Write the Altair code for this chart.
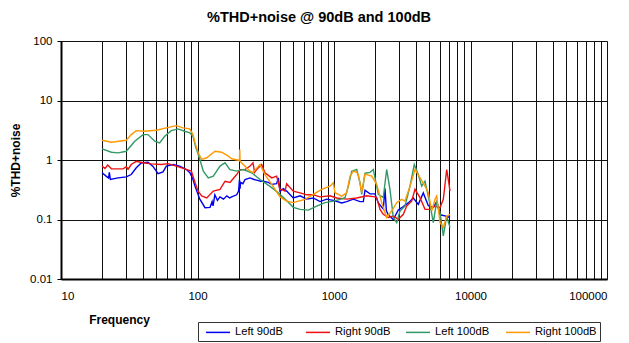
import altair as alt
import pandas as pd

series_names = ["Left 90dB", "Right 90dB", "Left 100dB", "Right 100dB"]
series_colors = ["#0000ee", "#ee1111", "#339966", "#ff9900"]

left90_f = [20, 21.5, 22.3, 22.6, 23, 26.2, 30.1, 32.7, 35.6, 38.7, 43.4, 47.2, 51.4, 55.9, 59.1, 66.1,
            74.1, 82.8, 88, 92.7, 96, 104, 113.5, 123.5, 128, 130, 134, 140, 146, 155, 164, 172, 178,
            193.6, 200, 203, 205, 207, 215, 223, 242, 260, 271, 290, 303, 330, 350, 380, 391, 402, 425,
            450, 503, 564, 631, 705, 790, 884, 988, 1139, 1239, 1385, 1551, 1640, 1687, 1835, 1995,
            2111, 2296, 2364, 2420, 2499, 2719, 2958, 3219, 3503, 3811, 4146, 4510, 4909, 5340, 5655,
            5979, 6503, 7077]
left90_v = [0.61, 0.53, 0.50, 0.62, 0.47, 0.50, 0.52, 0.57, 0.74, 0.89, 0.92, 0.78, 0.59, 0.63, 0.79, 0.84,
            0.79, 0.69, 0.61, 0.47, 0.36, 0.22, 0.158, 0.16, 0.20, 0.17, 0.26, 0.21, 0.24, 0.22, 0.25, 0.23, 0.24,
            0.26, 0.30, 0.47, 0.33, 0.42, 0.40, 0.47, 0.50, 0.47, 0.46, 0.44, 0.44, 0.42, 0.39, 0.40, 0.50, 0.30, 0.33,
            0.30, 0.23, 0.25, 0.22, 0.23, 0.20, 0.22, 0.21, 0.19, 0.20, 0.22, 0.20, 0.20, 0.31, 0.27, 0.27,
            0.19, 0.15, 0.33, 0.14, 0.12, 0.10, 0.145, 0.165, 0.19, 0.23, 0.18, 0.28, 0.17, 0.16, 0.20,
            0.12, 0.115, 0.108]

right90_f = [20, 21, 22, 23.4, 28.5, 30.1, 31, 32.7, 35.6, 39.9, 45.9, 54.3, 60.8, 69.9, 80.5, 90.1, 95.9,
             101, 107.3, 116.8, 130.6, 146.2, 159.1, 173, 193.6, 204.8, 222.8, 242.5, 255, 262, 271.4, 295,
             312, 350, 380, 402, 414, 438, 450, 503, 564, 631, 705, 790, 935, 1047, 1239, 1467, 1737, 1995,
             2055, 2173, 2296, 2499, 2719, 2958, 3219, 3409, 3707, 3922, 4266, 4643, 5050, 5496, 5979, 6321,
             6693, 6900, 7077]
right90_v = [0.79, 0.72, 0.82, 0.71, 0.71, 0.77, 0.70, 0.84, 0.95, 0.90, 0.86, 0.84, 0.87, 0.79, 0.71, 0.65, 0.42,
             0.30, 0.25, 0.23, 0.30, 0.32, 0.44, 0.42, 0.57, 0.69, 0.69, 0.79, 0.90, 0.62, 0.69, 0.84,
             0.61, 0.50, 0.535, 0.32, 0.32, 0.30, 0.40, 0.30, 0.28, 0.26, 0.26, 0.24, 0.25, 0.23, 0.22, 0.23, 0.25, 0.24,
             0.233, 0.148, 0.122, 0.108, 0.114, 0.101, 0.122, 0.168, 0.204, 0.321, 0.233, 0.148, 0.148, 0.168, 0.158, 0.218,
             0.69, 0.45, 0.30]

left100_f = [20, 23.4, 26.2, 30.1, 34.7, 39.9, 43.4, 48.6, 52.8, 57.5, 64.3, 71.9, 80.5, 88, 92.7, 97, 103,
             110.3, 120, 130.6, 146.2, 159.1, 173, 193.6, 216.6, 249.5, 287, 340, 391, 438, 503, 564, 648,
             747, 859, 988, 1107, 1204, 1274, 1348, 1467, 1551, 1596, 1687, 1835, 1941, 2111, 2296, 2432,
             2570, 2719, 2880, 3045, 3311, 3605, 3873, 4146, 4390, 4643, 5050, 5340, 5655, 5979, 6321,
             6693, 7077]
left100_v = [1.54, 1.35, 1.32, 1.40, 2.07, 2.67, 2.67, 2.07, 1.94, 2.50, 3.12, 3.33, 3.04, 2.85, 2.50, 1.65, 1.1,
             0.65, 0.50, 0.535, 0.79, 0.90, 0.69, 0.65, 0.69, 0.61, 0.47, 0.36, 0.28, 0.22, 0.16, 0.148, 0.144,
             0.168, 0.192, 0.204, 0.218, 0.233, 0.364, 0.649, 0.693, 0.415, 0.264, 0.60, 0.62, 0.693, 0.264, 0.233, 0.693,
             0.321, 0.108, 0.0887, 0.139, 0.168, 0.364, 0.84, 0.572, 0.364, 0.441, 0.18, 0.0887, 0.204, 0.131, 0.0529,
             0.114, 0.0732]

right100_f = [20, 23.4, 30.1, 32.7, 35.6, 40.4, 49.9, 59.1, 69.9, 78.3, 87.7, 92.7, 95.9, 101.4, 107.3, 116.8,
              134.3, 150.4, 168.1, 178, 199, 203, 204, 205, 216.6, 242.5, 255, 287, 312, 350, 402, 450, 503,
              548, 613, 705, 813, 935, 988, 1017, 1139, 1239, 1310, 1385, 1467, 1507, 1596, 1687, 1888, 2055,
              2236, 2432, 2647, 2880, 3133, 3311, 3605, 3922, 4266, 4643, 4909, 5197, 5496, 5655, 5979, 6321,
              6693, 7077]
right100_v = [2.15, 1.99, 2.15, 2.67, 3.12, 3.04, 3.16, 3.46, 3.78, 3.46, 3.33, 2.67, 1.94, 1.32, 1.02, 1.09,
              1.40, 1.35, 1.16, 1.05, 0.99, 1.02, 1.50, 0.95, 0.84, 0.65, 0.62, 0.84, 0.57, 0.39, 0.24, 0.204, 0.192,
              0.204, 0.218, 0.264, 0.321, 0.364, 0.415, 0.282, 0.247, 0.282, 0.535, 0.649, 0.62, 0.572, 0.282, 0.58, 0.535, 0.389,
              0.192, 0.108, 0.139, 0.192, 0.218, 0.204, 0.364, 0.693, 0.503, 0.364, 0.282, 0.139, 0.218, 0.247, 0.0887, 0.0732,
              0.114, 0.122]

x_grid = [10, 20, 30, 40, 50, 60, 70, 80, 90,
          100, 200, 300, 400, 500, 600, 700, 800, 900,
          1000, 2000, 3000, 4000, 5000, 6000, 7000, 8000, 9000,
          10000, 20000, 30000, 40000, 50000, 60000, 70000, 80000, 90000, 100000]
x_labels = [10, 100, 1000, 10000, 100000]
y_ticks = [0.01, 0.1, 1, 10, 100]

frames = []
for name, f, v in [("Left 90dB", left90_f, left90_v), ("Right 90dB", right90_f, right90_v),
                   ("Left 100dB", left100_f, left100_v), ("Right 100dB", right100_f, right100_v)]:
    frames.append(pd.DataFrame({"series": name, "freq": f, "thd": v}))
df = pd.concat(frames, ignore_index=True)

FONT = "Liberation Sans"

x_enc = alt.X(
    "freq:Q",
    scale=alt.Scale(type="log", domain=[10, 100000], nice=False),
    axis=alt.Axis(
        values=x_grid,
        labelExpr="indexof(" + str(x_labels) + ", datum.value) >= 0 ? datum.label : ''",
        format="d",
        grid=True, gridColor="#111111", gridWidth=1, gridOpacity=1,
        tickSize=0, domainColor="#000000", domainWidth=2,
        labelFont=FONT, labelFontSize=11.5, labelColor="#000000", labelPadding=11,
        title="Frequency", titleFont=FONT, titleFontSize=12, titleFontWeight="bold",
        titleColor="#000000", titleX=58, titleY=40, titleBaseline="middle", titleAlign="center",
    ),
)
y_enc = alt.Y(
    "thd:Q",
    scale=alt.Scale(type="log", domain=[0.01, 100], nice=False),
    axis=alt.Axis(
        values=y_ticks, format="~g",
        grid=True, gridColor="#111111", gridWidth=1, gridOpacity=1,
        tickSize=4, tickColor="#000000", domainColor="#000000", domainWidth=2,
        labelFont=FONT, labelFontSize=11.5, labelColor="#000000", labelPadding=5,
        title="%THD+noise", titleFont=FONT, titleFontSize=12, titleFontWeight="bold",
        titleColor="#000000", titleX=-46, titleY=119, titleBaseline="middle", titleAlign="center",
    ),
)
color_enc = alt.Color(
    "series:N",
    scale=alt.Scale(domain=series_names, range=series_colors),
    legend=alt.Legend(
        title=None, orient="none", legendX=137, legendY=281, direction="horizontal", columns=4,
        gridAlign="all", symbolType="M-0.333,0H3.667", symbolSize=144, symbolStrokeWidth=1.5,
        labelFont=FONT, labelFontSize=11.2, labelColor="#000000", labelOffset=20, labelLimit=200,
        columnPadding=4, padding=3, strokeColor="#333333", fillColor="#ffffff",
    ),
)

layers = []
for name in series_names:
    layers.append(
        alt.Chart(df)
        .transform_filter(alt.datum.series == name)
        .mark_line(strokeWidth=1.4, clip=True)
        .encode(x=x_enc, y=y_enc, color=color_enc)
    )

chart = (
    alt.layer(*layers)
    .properties(
        width=546, height=238,
        autosize="none",
        padding={"left": 53, "top": 33, "right": 14, "bottom": 64},
        title=alt.TitleParams(
            text="%THD+noise @ 90dB and 100dB", font=FONT, fontSize=14.5, fontWeight="bold",
            color="#000000", anchor="middle", dx=-15, offset=10,
        ),
    )
    .configure_view(stroke="#000000", strokeWidth=2)
    .configure(background="#ffffff")
)

chart.save("out.html", embed_options={"renderer": "svg", "actions": False})
